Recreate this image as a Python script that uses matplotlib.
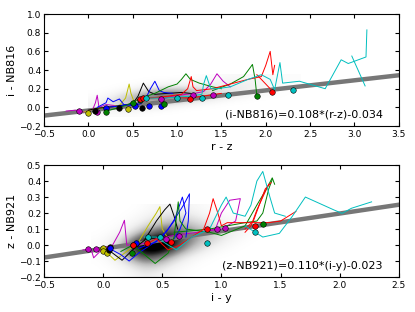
import matplotlib
matplotlib.use("Agg")
import matplotlib.pyplot as plt
import numpy as np

# ---- fits ----
fit_top = (0.108, -0.034)
fit_bot = (0.110, -0.023)

# ---- background density grids (hand read, rows from top) ----
dens_top_extent = [0.0, 2.4, -0.1, 0.35]
dens_top = [
    [0, 0, 0, 0, 0, 0, 0.02, 0.03, 0.05, 0.06, 0.05, 0.02],
    [0, 0, 0, 0.02, 0.04, 0.05, 0.06, 0.08, 0.10, 0.10, 0.06, 0.02],
    [0, 0, 0.03, 0.08, 0.12, 0.12, 0.12, 0.14, 0.14, 0.10, 0.05, 0.01],
    [0, 0.03, 0.12, 0.30, 0.45, 0.40, 0.30, 0.22, 0.15, 0.08, 0.03, 0],
    [0.02, 0.10, 0.35, 0.60, 0.70, 0.55, 0.35, 0.20, 0.10, 0.04, 0.01, 0],
    [0.05, 0.20, 0.40, 0.50, 0.45, 0.30, 0.15, 0.06, 0.02, 0, 0, 0],
    [0.10, 0.25, 0.30, 0.25, 0.15, 0.08, 0.03, 0, 0, 0, 0, 0],
    [0.08, 0.12, 0.10, 0.06, 0.03, 0, 0, 0, 0, 0, 0, 0],
    [0.02, 0.03, 0.02, 0, 0, 0, 0, 0, 0, 0, 0, 0],
]
dens_bot_extent = [-0.1, 1.4, -0.2, 0.25]
dens_bot = [
    [0, 0, 0, 0, 0.02, 0.05, 0.08, 0.08, 0.06, 0.03, 0.02, 0, 0, 0, 0],
    [0, 0, 0, 0.02, 0.06, 0.12, 0.18, 0.18, 0.14, 0.08, 0.05, 0.03, 0.01, 0, 0],
    [0, 0, 0.02, 0.06, 0.15, 0.28, 0.35, 0.35, 0.28, 0.20, 0.15, 0.10, 0.06, 0.03, 0],
    [0, 0.02, 0.06, 0.18, 0.40, 0.60, 0.70, 0.60, 0.45, 0.35, 0.25, 0.15, 0.08, 0.04, 0],
    [0.02, 0.06, 0.20, 0.50, 0.80, 0.95, 0.90, 0.70, 0.45, 0.30, 0.18, 0.08, 0.03, 0, 0],
    [0.03, 0.10, 0.30, 0.70, 0.95, 1.00, 0.85, 0.55, 0.30, 0.15, 0.06, 0.02, 0, 0, 0],
    [0.01, 0.05, 0.18, 0.45, 0.65, 0.60, 0.40, 0.20, 0.08, 0.03, 0, 0, 0, 0, 0],
    [0, 0.02, 0.06, 0.18, 0.30, 0.28, 0.15, 0.06, 0.02, 0, 0, 0, 0, 0, 0],
    [0, 0, 0.02, 0.06, 0.12, 0.10, 0.05, 0.02, 0, 0, 0, 0, 0, 0, 0],
]

# ---- tracks: (color, x, y) ----
top_tracks = [
    ("m", [-0.25, -0.15, -0.05, 0.05, 0.08, 0.1, 0.12, 0.2, 0.3],
          [-0.04, -0.03, -0.05, -0.02, 0.05, 0.13, 0.0, 0.03, 0.02]),
    ("m", [0.8, 0.95, 1.1, 1.2, 1.3, 1.38, 1.45, 1.52, 1.6],
          [0.08, 0.12, 0.14, 0.15, 0.17, 0.25, 0.36, 0.28, 0.22]),
    ("y", [-0.05, 0.05, 0.2, 0.35, 0.42, 0.46, 0.48, 0.52, 0.6],
          [-0.05, -0.02, 0.0, 0.02, 0.1, 0.25, 0.15, 0.05, 0.04]),
    ("k", [0.0, 0.1, 0.3, 0.5, 0.56, 0.62, 0.68, 0.75, 0.9, 1.05, 1.15],
          [-0.03, -0.01, 0.01, 0.04, 0.12, 0.26, 0.17, 0.14, 0.15, 0.16, 0.15]),
    ("b", [0.1, 0.2, 0.22, 0.28, 0.35, 0.4, 0.5, 0.6],
          [0.0, 0.05, 0.1, 0.06, 0.09, 0.03, 0.02, 0.04]),
    ("b", [0.2, 0.4, 0.55, 0.65, 0.7, 0.75, 0.8, 0.85, 0.95],
          [0.0, 0.02, 0.04, 0.1, 0.2, 0.28, 0.18, 0.16, 0.15]),
    ("g", [0.2, 0.35, 0.45, 0.5, 0.6, 0.75, 0.9, 1.0, 1.05, 1.1, 1.15, 1.25, 1.4, 1.5],
          [-0.04, 0.0, 0.03, 0.06, 0.1, 0.15, 0.22, 0.25, 0.3, 0.36, 0.3, 0.26, 0.22, 0.2]),
    ("g", [1.4, 1.6, 1.75, 1.82, 1.85, 1.88, 1.9],
          [0.18, 0.25, 0.33, 0.42, 0.46, 0.3, 0.12]),
    ("r", [0.55, 0.7, 0.9, 1.05, 1.12, 1.16, 1.18, 1.22, 1.4, 1.6, 1.8, 1.95, 2.0, 2.05, 2.08, 2.1],
          [0.08, 0.1, 0.12, 0.14, 0.2, 0.33, 0.22, 0.18, 0.2, 0.25, 0.3, 0.33, 0.45, 0.6, 0.35, 0.45]),
    ("r", [1.9, 1.95, 2.0, 2.05, 2.07], [0.35, 0.3, 0.25, 0.2, 0.17]),
    ("r", [0.6, 0.9, 1.15, 1.5], [0.1, 0.11, 0.1, 0.15]),
    ("c", [0.65, 0.85, 1.0, 1.15, 1.28, 1.3, 1.33, 1.38, 1.45, 1.6, 1.8, 1.95, 2.05, 2.1,
           2.16, 2.19, 2.38, 2.67, 2.85, 2.93, 3.13, 3.14],
          [0.1, 0.1, 0.11, 0.12, 0.14, 0.25, 0.34, 0.2, 0.2, 0.22, 0.3, 0.35, 0.3, 0.19,
           0.48, 0.26, 0.28, 0.2, 0.51, 0.47, 0.54, 0.83]),
    ("c", [2.97, 3.12], [0.55, 0.23]),
]
top_markers = [
    ("m", [-0.1, 0.1, 0.82, 1.18, 1.4], [-0.04, -0.05, 0.09, 0.13, 0.13]),
    ("y", [0.0, 0.45], [-0.06, -0.02]),
    ("k", [0.07, 0.35, 0.6], [-0.04, -0.01, -0.01]),
    ("b", [0.2, 0.53, 0.68, 0.82], [-0.01, 0.01, 0.01, 0.02]),
    ("g", [0.2, 0.5, 0.58, 0.85, 1.9], [-0.05, 0.05, 0.08, 0.04, 0.12]),
    ("r", [0.58, 0.62, 1.15, 2.07], [0.09, 0.1, 0.09, 0.17]),
    ("c", [0.65, 1.0, 1.28, 1.57, 2.31], [0.1, 0.1, 0.1, 0.13, 0.19]),
]

bot_tracks = [
    ("m", [-0.17, -0.1, -0.08, 0.0, 0.08, 0.14, 0.18, 0.2, 0.28, 0.4],
          [-0.03, -0.03, -0.08, -0.02, 0.0, 0.08, 0.155, 0.0, 0.0, 0.02]),
    ("m", [0.45, 0.6, 0.8, 0.95, 1.0, 1.07, 1.16, 1.12, 1.0, 0.9],
          [0.04, 0.06, 0.08, 0.1, 0.2, 0.28, 0.29, 0.15, 0.1, 0.09]),
    ("y", [-0.05, 0.0, 0.05, 0.1, 0.2, 0.3, 0.38, 0.45, 0.48, 0.5, 0.55],
          [-0.03, -0.02, -0.06, -0.095, -0.04, 0.02, 0.12, 0.2, 0.24, 0.1, 0.04]),
    ("k", [0.0, 0.08, 0.16, 0.25, 0.35, 0.45, 0.52, 0.565, 0.6, 0.63],
          [-0.01, -0.05, -0.095, -0.03, 0.03, 0.15, 0.22, 0.256, 0.18, 0.1]),
    ("b", [0.05, 0.15, 0.22, 0.3, 0.4, 0.5, 0.6, 0.67, 0.7, 0.65, 0.6],
          [-0.02, -0.06, -0.1, -0.05, 0.0, 0.05, 0.15, 0.3, 0.2, 0.1, 0.04]),
    ("b", [0.3, 0.45, 0.55, 0.62, 0.68, 0.73, 0.72, 0.7],
          [-0.02, 0.02, 0.1, 0.18, 0.25, 0.32, 0.15, 0.05]),
    ("g", [0.15, 0.25, 0.35, 0.44, 0.55, 0.6, 0.635, 0.65, 0.7, 0.9, 1.0, 1.2, 1.3, 1.38, 1.43, 1.45],
          [-0.04, 0.0, -0.06, -0.115, -0.05, 0.05, 0.27, 0.15, 0.1, 0.08, 0.06, 0.12, 0.25, 0.35, 0.42, 0.38]),
    ("g", [0.6, 0.9, 1.05, 1.2, 1.3, 1.35, 1.4, 1.43],
          [0.08, 0.1, 0.12, 0.14, 0.15, 0.2, 0.35, 0.41]),
    ("r", [0.35, 0.45, 0.55, 0.65, 0.75, 0.85, 0.9, 0.93, 0.97, 1.0, 1.05, 1.2, 1.4, 1.5, 1.63],
          [0.0, 0.04, -0.03, 0.0, 0.05, 0.1, 0.2, 0.29, 0.2, 0.12, 0.14, 0.14, 0.14, 0.15, 0.21]),
    ("r", [1.2, 1.25, 1.3, 1.35, 1.4], [0.08, 0.12, 0.22, 0.3, 0.38]),
    ("r", [1.2, 1.27, 1.32, 1.37, 1.42], [0.1, 0.15, 0.25, 0.35, 0.39]),
    ("c", [0.35, 0.45, 0.55, 0.62, 0.75, 0.9, 1.0, 1.04, 1.1, 1.2, 1.25, 1.3, 1.35, 1.41, 1.45, 1.54],
          [0.05, 0.05, 0.0, -0.03, 0.05, 0.1, 0.25, 0.3, 0.2, 0.18, 0.25, 0.4, 0.46, 0.3, 0.2, 0.18]),
    ("c", [1.2, 1.35, 1.49, 1.6, 1.71, 1.95, 2.02, 2.1, 2.27],
          [0.12, 0.05, 0.073, 0.18, 0.30, 0.22, 0.198, 0.23, 0.27]),
]
bot_markers = [
    ("m", [-0.13, -0.06, 0.53, 0.64, 0.96, 1.03], [-0.027, -0.027, 0.036, 0.056, 0.1, 0.104]),
    ("y", [0.0, 0.0, 0.03], [-0.02, -0.04, -0.05]),
    ("k", [0.06, 0.05], [-0.01, -0.03]),
    ("b", [0.058, 0.28], [-0.02, 0.01]),
    ("g", [0.25, 0.246, 1.35], [0.0, -0.048, 0.13]),
    ("r", [0.25, 0.37, 0.57, 0.88, 1.28], [0.0, 0.01, 0.02, 0.1, 0.12]),
    ("c", [0.38, 0.48, 0.88, 1.28], [0.05, 0.05, 0.01, 0.08]),
]


def panel(ax, dens, ext, vmax, fit, tracks, markers, xlim, ylim, xt, yt, xlab, ylab, txt):
    ax.imshow(np.array(dens), extent=ext, cmap="Greys", vmin=0, vmax=vmax,
              interpolation="bicubic", aspect="auto", zorder=0)
    xs = np.array(xlim)
    ax.plot(xs, fit[0] * xs + fit[1], color="#777777", lw=3.2, zorder=1)
    for c, x, y in tracks:
        ax.plot(x, y, color=c, lw=0.7, zorder=2)
    for c, x, y in markers:
        ax.plot(x, y, "o", color=c, ms=4, mec="k", mew=0.4, zorder=3)
    ax.set_xlim(xlim)
    ax.set_ylim(ylim)
    ax.set_xticks(xt)
    ax.set_yticks(yt)
    ax.set_xlabel(xlab, fontsize=8, labelpad=2)
    ax.set_ylabel(ylab, fontsize=8, labelpad=2)
    ax.tick_params(direction="in", top=True, right=True, labelsize=6.5, length=3)
    ax.tick_params(axis="x", pad=3)
    ax.tick_params(axis="y", pad=2)
    ax.text(0.955, 0.1, txt, transform=ax.transAxes, ha="right", va="center", fontsize=8)


fig = plt.figure(figsize=(4.15, 3.12), dpi=100)
ax1 = fig.add_axes([0.106, 0.596, 0.855, 0.359])
ax2 = fig.add_axes([0.106, 0.112, 0.855, 0.359])

panel(ax1, dens_top, dens_top_extent, 1.0, fit_top, top_tracks, top_markers,
      (-0.5, 3.5), (-0.2, 1.0), np.arange(-0.5, 3.51, 0.5), np.arange(-0.2, 1.01, 0.2),
      "r - z", "i - NB816", "(i-NB816)=0.108*(r-z)-0.034")
panel(ax2, dens_bot, dens_bot_extent, 0.85, fit_bot, bot_tracks, bot_markers,
      (-0.5, 2.5), (-0.2, 0.5), np.arange(-0.5, 2.51, 0.5), np.arange(-0.2, 0.51, 0.1),
      "i - y", "z - NB921", "(z-NB921)=0.110*(i-y)-0.023")

fig.savefig("out.png", dpi=100)
